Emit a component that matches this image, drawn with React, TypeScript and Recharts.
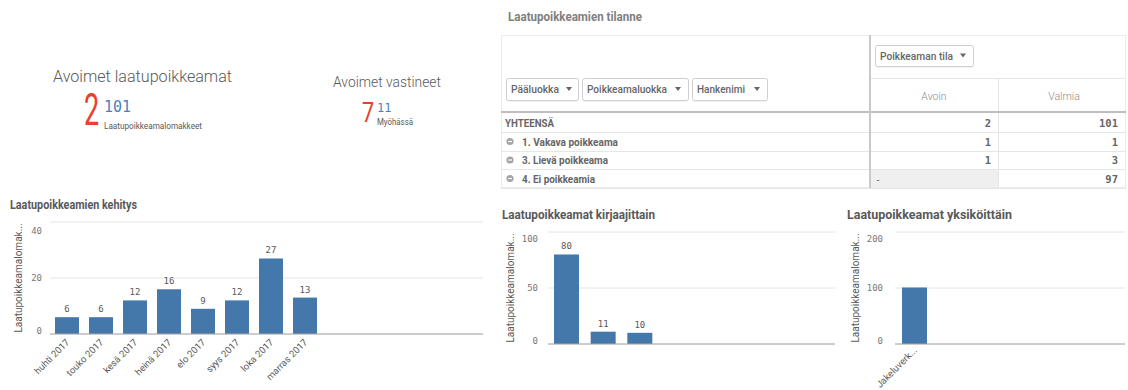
import { BarChart, Bar, XAxis, YAxis, CartesianGrid, LabelList } from "recharts"

// kehitys per month
const months = ["huhti 2017", "touko 2017", "kesä 2017", "heinä 2017", "elo 2017", "syys 2017", "loka 2017", "marras 2017"]
const monthCounts = [6, 6, 12, 16, 9, 12, 27, 13]
const trendTicks = [0, 20, 40]

// kirjaajittain (names not visible in the picture)
const recorders = ["Kirjaaja 1", "Kirjaaja 2", "Kirjaaja 3"]
const recorderCounts = [80, 11, 10]
const recorderTicks = [0, 50, 100]

// yksiköittäin
const units = ["Jakeluverk..."]
const unitCounts = [101]
const unitTicks = [0, 100, 200]

// pivot table
const tableRows = ["YHTEENSÄ", "1. Vakava poikkeama", "3. Lievä poikkeama", "4. Ei poikkeamia"]
const openCounts = ["2", "1", "1", "-"]
const doneCounts = ["101", "1", "3", "97"]

// KPIs
const kpiOpen = "2"
const kpiForms = "101"
const kpiReplies = "7"
const kpiLate = "11"

const trendData = months.map((m, i) => ({ name: m, value: monthCounts[i] }))
const recorderData = recorders.map((r, i) => ({ name: r, value: recorderCounts[i] }))
const unitData = units.map((u, i) => ({ name: u, value: unitCounts[i] }))

const BLUE = "#4477aa"
const RED = "#e8402a"
const TEXT = "#595959"
const GRID = "#e4e4e4"
const SANS = "Roboto, 'Liberation Sans', sans-serif"
const MONO = "'DejaVu Sans Mono', monospace"
const YTITLE = "Laatupoikkeamalomak..."

// qlik uses a condensed face, so squeeze text to the widths seen in the picture
const NText = (props: any) => {
  const { w, children, ...rest } = props
  return (
    <text textLength={w} lengthAdjust="spacingAndGlyphs" fontFamily={SANS} {...rest}>
      {children}
    </text>
  )
}

const YTick = (props: any) => {
  const { x, y, payload, top } = props
  const shift = payload.value === top ? 7 : payload.value === 0 ? -3 : 0
  return (
    <text x={x} y={y + shift} textAnchor="end" dominantBaseline="central" fontSize={9} fill="#777" fontFamily={MONO}>
      {payload.value}
    </text>
  )
}

const XTickRot = (props: any) => {
  const { x, y, payload } = props
  return (
    <text
      x={x + 3}
      y={y + 3}
      transform={`rotate(-45 ${x + 3} ${y + 3})`}
      textAnchor="end"
      fontSize={9.5}
      fill={TEXT}
      fontFamily={SANS}
    >
      {payload.value}
    </text>
  )
}

const YTitle = (props: any) => {
  const { viewBox, left, fallbackY } = props
  const cy = viewBox && viewBox.height ? viewBox.y + viewBox.height / 2 : fallbackY
  return (
    <text
      x={left}
      y={cy}
      transform={`rotate(-90 ${left} ${cy})`}
      textAnchor="middle"
      dominantBaseline="central"
      fontSize={10}
      fill={TEXT}
      fontFamily={SANS}
    >
      {YTITLE}
    </text>
  )
}

const Arrow = ({ x, y }: { x: number; y: number }) => (
  <path d={`M${x - 3},${y - 2} L${x + 3},${y - 2} L${x},${y + 2} Z`} fill="#666" />
)

const Button = (props: { x: number; y: number; w: number; h: number; label: string; tw: number; ax: number }) => {
  const { x, y, w, h, label, tw, ax } = props
  return (
    <g>
      <rect x={x + 0.5} y={y + 1.5} width={w} height={h} rx={2} fill="#e8e8e8" />
      <rect x={x + 0.5} y={y + 0.5} width={w} height={h} rx={2} fill="#fff" stroke="#cfcfcf" />
      <NText x={x + 5} y={y + h / 2 + 4} w={tw} fontSize={11} fontWeight={500} fill="#666">
        {label}
      </NText>
      <Arrow x={ax} y={y + h / 2} />
    </g>
  )
}

function Background() {
  const rowTop = [113, 132, 151, 169]
  const rowBottom = [132, 151, 169, 188]
  const rowWidths = [49, 96, 86, 73]
  return (
    <svg width={1128} height={390} style={{ position: "absolute", left: 0, top: 0 }}>
      {/* KPI 1 */}
      <NText x={53} y={82} w={179} fontSize={17} fontWeight={300} fill={TEXT}>
        Avoimet laatupoikkeamat
      </NText>
      <text transform="translate(84 125) scale(0.6 1)" fontSize={45} fill={RED} fontFamily={SANS}>
        {kpiOpen}
      </text>
      <text x={104} y={112} fontSize={15} fill="#4d7fb8" fontFamily={MONO}>
        {kpiForms}
      </text>
      <NText x={104} y={129} w={98} fontSize={9.5} fill={TEXT}>
        Laatupoikkeamalomakkeet
      </NText>

      {/* KPI 2 */}
      <NText x={333} y={87} w={108} fontSize={15} fontWeight={300} fill={TEXT}>
        Avoimet vastineet
      </NText>
      <text transform="translate(362 122) scale(0.8 1)" fontSize={27} fill={RED} fontFamily={SANS}>
        {kpiReplies}
      </text>
      <text x={377} y={112} fontSize={12} fill="#4d7fb8" fontFamily={MONO}>
        {kpiLate}
      </text>
      <NText x={377} y={125} w={36} fontSize={9} fill={TEXT}>
        Myöhässä
      </NText>

      {/* table */}
      <NText x={508} y={21} w={134} fontSize={12} fontWeight="bold" fill="#808080">
        Laatupoikkeamien tilanne
      </NText>
      <rect x={501.5} y={35.5} width={624} height={152} fill="#fff" stroke="#ececec" />
      <rect x={871} y={170} width={127} height={17} fill="#efefef" />
      <line x1={870} x2={1126} y1={78.5} y2={78.5} stroke="#e6e6e6" />
      <line x1={998.5} x2={998.5} y1={78} y2={188} stroke="#e6e6e6" />
      {rowBottom.map((y) => (
        <line key={y} x1={501} x2={1126} y1={y + 0.5} y2={y + 0.5} stroke="#e6e6e6" />
      ))}
      <line x1={501} x2={1126} y1={112} y2={112} stroke="#a9a9a9" strokeWidth={1.5} />
      <line x1={870} x2={870} y1={35} y2={188} stroke="#c9c9c9" strokeWidth={2} />

      <Button x={506} y={78} w={72} h={22} label="Pääluokka" tw={48} ax={569} />
      <Button x={582} y={78} w={106} h={22} label="Poikkeamaluokka" tw={80} ax={678} />
      <Button x={692} y={78} w={75} h={22} label="Hankenimi" tw={48} ax={757} />
      <Button x={875} y={45} w={98} h={21} label="Poikkeaman tila" tw={73} ax={963} />

      <text x={934} y={100} fontSize={10.5} fill="#8a8a8a" textAnchor="middle" fontFamily={SANS} fontWeight={300}>
        Avoin
      </text>
      <text x={1064} y={100} fontSize={10.5} fill="#8a8a8a" textAnchor="middle" fontFamily={SANS} fontWeight={300}>
        Valmia
      </text>

      {tableRows.map((label, i) => {
        const cy = (rowTop[i] + rowBottom[i]) / 2
        const base = cy + 4
        return (
          <g key={label}>
            {i > 0 && (
              <g>
                <circle cx={510} cy={cy} r={3.6} fill="#a5a5a5" />
                <line x1={508} x2={512} y1={cy} y2={cy} stroke="#fff" strokeWidth={1.2} />
              </g>
            )}
            <NText x={i === 0 ? 505 : 522} y={base} w={rowWidths[i]} fontSize={11} fontWeight="bold" fill="#666">
              {label}
            </NText>
            {openCounts[i] === "-" ? (
              <text x={875} y={base} fontSize={10} fill="#777" fontFamily={MONO}>
                -
              </text>
            ) : (
              <text x={991} y={base} fontSize={10.5} fontWeight="bold" fill="#666" textAnchor="end" fontFamily={MONO}>
                {openCounts[i]}
              </text>
            )}
            <text x={1118} y={base} fontSize={10.5} fontWeight="bold" fill="#666" textAnchor="end" fontFamily={MONO}>
              {doneCounts[i]}
            </text>
          </g>
        )
      })}

      {/* chart titles */}
      <NText x={10} y={209} w={127} fontSize={12} fontWeight="bold" fill={TEXT}>
        Laatupoikkeamien kehitys
      </NText>
      <NText x={502} y={219} w={153} fontSize={12.5} fontWeight="bold" fill={TEXT}>
        Laatupoikkeamat kirjaajittain
      </NText>
      <NText x={847} y={219} w={165} fontSize={12.5} fontWeight="bold" fill={TEXT}>
        Laatupoikkeamat yksiköittäin
      </NText>
    </svg>
  )
}

export default function App() {
  return (
    <div
      style={{
        position: "absolute",
        left: 0,
        top: 0,
        width: 1128,
        height: 390,
        background: "#fff",
        overflow: "hidden",
      }}
    >
      <Background />

      <div style={{ position: "absolute", left: 0, top: 215 }}>
        <BarChart width={490} height={175} data={trendData} margin={{ top: 7, right: 7, bottom: 0, left: 0 }}>
          <CartesianGrid vertical={false} stroke={GRID} />
          <XAxis
            dataKey="name"
            interval={0}
            height={56}
            tickLine={false}
            tickSize={0}
            tickMargin={6}
            stroke="#a8a8a8"
            padding={{ left: 0, right: 161 }}
            tick={<XTickRot />}
          />
          <YAxis
            domain={[0, 40]}
            ticks={trendTicks}
            width={50}
            axisLine={false}
            tickLine={false}
            tickSize={0}
            tickMargin={8}
            tick={<YTick top={40} />}
            label={<YTitle left={18} fallbackY={63} />}
          />
          <Bar dataKey="value" fill={BLUE} barSize={24} isAnimationActive={false}>
            <LabelList dataKey="value" position="top" offset={5} fontSize={9} fill={TEXT} fontFamily={MONO} />
          </Bar>
        </BarChart>
      </div>

      <div style={{ position: "absolute", left: 495, top: 222 }}>
        <BarChart width={345} height={168} data={recorderData} margin={{ top: 10, right: 5, bottom: 0, left: 0 }}>
          <CartesianGrid vertical={false} stroke={GRID} />
          <XAxis
            dataKey="name"
            height={46}
            tick={false}
            tickLine={false}
            stroke="#a8a8a8"
            padding={{ left: 0, right: 177 }}
          />
          <YAxis
            domain={[0, 100]}
            ticks={recorderTicks}
            width={53}
            axisLine={false}
            tickLine={false}
            tickSize={0}
            tickMargin={10}
            tick={<YTick top={100} />}
            label={<YTitle left={15} fallbackY={66} />}
          />
          <Bar dataKey="value" fill={BLUE} barSize={25} isAnimationActive={false}>
            <LabelList dataKey="value" position="top" offset={5} fontSize={9} fill={TEXT} fontFamily={MONO} />
          </Bar>
        </BarChart>
      </div>

      <div style={{ position: "absolute", left: 840, top: 222 }}>
        <BarChart width={288} height={168} data={unitData} margin={{ top: 10, right: 3, bottom: 0, left: 0 }}>
          <CartesianGrid vertical={false} stroke={GRID} />
          <XAxis
            dataKey="name"
            interval={0}
            height={46}
            tickLine={false}
            tickSize={0}
            tickMargin={4}
            stroke="#a8a8a8"
            padding={{ left: 0, right: 191 }}
            tick={<XTickRot />}
          />
          <YAxis
            domain={[0, 200]}
            ticks={unitTicks}
            width={55}
            axisLine={false}
            tickLine={false}
            tickSize={0}
            tickMargin={12}
            tick={<YTick top={200} />}
            label={<YTitle left={15} fallbackY={66} />}
          />
          <Bar dataKey="value" fill={BLUE} barSize={25} isAnimationActive={false} />
        </BarChart>
      </div>
    </div>
  )
}
